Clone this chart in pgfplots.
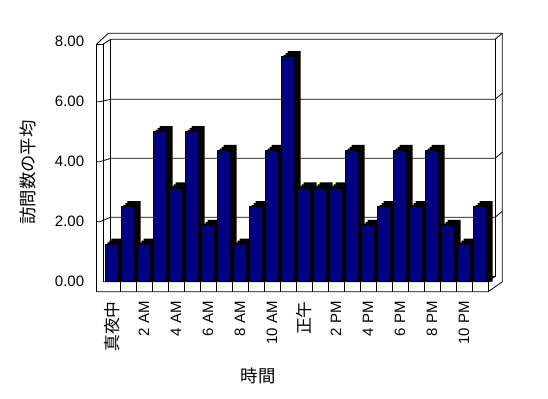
\documentclass[border=0pt]{standalone}
\usepackage{pgfplots}
\usepackage{pgfplotstable}
\pgfplotsset{compat=1.18}
\usepackage{fontspec}
\setmainfont{Liberation Sans}
\newfontfamily\cjk{Noto Sans CJK JP}[Scale=1.12]
\definecolor{navybar}{RGB}{0,0,128}
\pgfplotstableread{
x v
0 1.25
1 2.5
2 1.25
3 5
4 3.125
5 5
6 1.875
7 4.375
8 1.25
9 2.5
10 4.375
11 7.5
12 3.125
13 3.125
14 3.125
15 4.375
16 1.875
17 2.5
18 4.375
19 2.5
20 4.375
21 1.875
22 1.25
23 2.5
}\datatable
\begin{document}
\begin{tikzpicture}
\begin{scope}[x=1bp,y=1bp,line width=0.8bp]
\path[use as bounding box] (0,0) rectangle (548,398);
\draw (96.7,106.3) -- (96.7,354) -- (103.3,354) -- (103.3,116.3);
\draw (96.7,354) -- (108.3,364.7) -- (502.3,364.7) -- (502.3,116.3) -- (488.3,106.3) -- (96.7,106.3);
\draw (103.3,354) -- (110.7,358.7) -- (495,358.7) -- (502.3,364.7);
\draw (110.7,358.7) -- (110.7,121.7) -- (495,121.7) -- (495,358.7);
\draw (103.3,116.3) -- (488.3,116.3) -- (495,121.7);
\draw (488.3,106.3) -- (488.3,116.3);
\foreach \v in {2,4,6} {
  \pgfmathsetmacro\yf{116.3+30*\v}
  \pgfmathsetmacro\yb{121.7+29.5*\v}
  \pgfmathsetmacro\yc{\yb+6}
  \draw (96.7,\yf) -- (100,\yf) -- (110.7,\yb) -- (495,\yb) -- (502.3,\yc);
}
\foreach \k in {0,...,22} {
  \pgfmathsetmacro\xx{120+16*\k}
  \draw (\xx,106.3) -- (\xx,116.3);
}
\node[rotate=90, font=\cjk\fontsize{15.5bp}{17bp}\selectfont] at (28.3,225.5) {訪問数の平均};
\node[font=\cjk\fontsize{15.5bp}{17bp}\selectfont] at (258,22) {時間};
\end{scope}
\begin{axis}[
  at={(96.7bp,106.3bp)}, anchor=south west,
  scale only axis, width=391.6bp, height=250bp,
  xmin=-0.956, xmax=23.519, ymin=-0.33333, ymax=8,
  clip=false,
  axis line style={draw=none},
  major tick length=0pt,
  xtick={0,2,...,22},
  xticklabels={{\cjk 真夜中},2 AM,4 AM,6 AM,8 AM,10 AM,{\cjk 正午},2 PM,4 PM,6 PM,8 PM,10 PM},
  xticklabel style={rotate=90, anchor=east},
  xticklabel shift=6bp,
  ytick={0,2,...,8},
  yticklabel shift=9bp,
  tick label style={font=\fontsize{15bp}{17bp}\selectfont},
  /pgf/number format/.cd, fixed, fixed zerofill, precision=2, assume math mode=true,
]
\addplot[ybar, bar width=13bp, bar shift=2bp, fill=black, draw=none]
  table[x=x, y expr=\thisrow{v}+0.0611] {\datatable};
\addplot[ybar, bar width=13bp, bar shift=4bp, fill=black, draw=none]
  table[x=x, y expr=\thisrow{v}+0.1222] {\datatable};
\addplot[ybar, bar width=13bp, bar shift=6bp, fill=black, draw=none]
  table[x=x, y expr=\thisrow{v}+0.1833] {\datatable};
\addplot[ybar, bar width=13bp, bar shift=0bp, fill=navybar, draw=black, line width=0.8bp]
  table[x=x, y=v] {\datatable};
\end{axis}
\end{tikzpicture}
\end{document}
